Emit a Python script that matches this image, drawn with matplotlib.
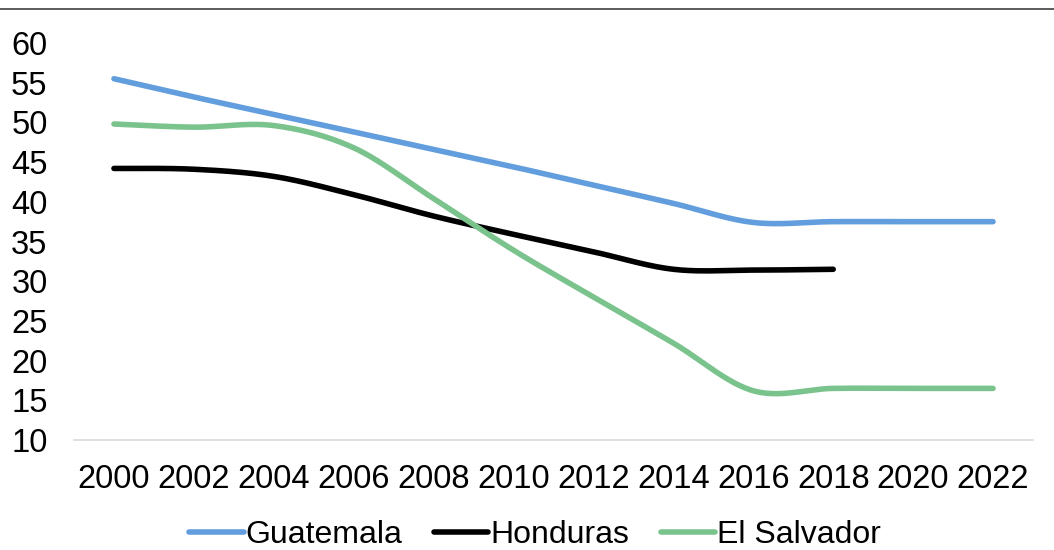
import numpy as np
import matplotlib
matplotlib.use("Agg")
import matplotlib.pyplot as plt
from matplotlib.lines import Line2D

plt.rcParams["font.family"] = ["Liberation Sans", "DejaVu Sans"]

years = ["2000", "2002", "2004", "2006", "2008", "2010",
         "2012", "2014", "2016", "2018", "2020", "2022"]
guatemala = [55.5, 53.2, 51.0, 48.8, 46.6, 44.4, 42.1, 39.8, 37.4, 37.5, 37.5, 37.5]
honduras = [44.2, 44.1, 43.2, 40.9, 38.2, 35.9, 33.7, 31.5, 31.4, 31.5, np.nan, np.nan]
el_salvador = [49.8, 49.4, 49.6, 46.8, 40.4, 33.9, 28.0, 22.2, 16.2, 16.5, 16.5, 16.5]

BLUE = "#629DDD"
GREEN = "#7BC38D"
BLACK = "#000000"


def smooth(xs, ys, n=30):
    # Catmull-Rom style Bezier smoothing, like spreadsheet "smoothed line"
    xs = np.asarray(xs, float)
    ys = np.asarray(ys, float)
    keep = ~np.isnan(ys)
    xs, ys = xs[keep], ys[keep]
    px, py = [], []
    t = np.linspace(0, 1, n)
    for i in range(len(xs) - 1):
        i0 = max(i - 1, 0)
        i3 = min(i + 2, len(xs) - 1)
        p0 = np.array([xs[i], ys[i]])
        p3 = np.array([xs[i + 1], ys[i + 1]])
        c1 = p0 + (p3 - np.array([xs[i0], ys[i0]])) / 6
        c2 = p3 - (np.array([xs[i3], ys[i3]]) - p0) / 6
        pts = ((1 - t) ** 3)[:, None] * p0 + (3 * (1 - t) ** 2 * t)[:, None] * c1 \
            + (3 * (1 - t) * t ** 2)[:, None] * c2 + (t ** 3)[:, None] * p3
        px.extend(pts[:, 0])
        py.extend(pts[:, 1])
    return px, py


fig = plt.figure(figsize=(10.54, 5.5), dpi=100)
ax = fig.add_axes([74 / 1054, 1 - 440 / 550, 959 / 1054, 397 / 550])

x = np.arange(len(years))
series = [("Guatemala", guatemala, BLUE), ("Honduras", honduras, BLACK),
          ("El Salvador", el_salvador, GREEN)]
for name, vals, col in series:
    sx, sy = smooth(x, vals)
    ax.plot(sx, sy, color=col, lw=4.0, solid_capstyle="round", label=name)

ax.set_xlim(-0.5, len(years) - 0.5)
ax.set_ylim(10, 60)
ax.set_yticks(range(10, 61, 5))
ax.set_xticks(x)
ax.set_xticklabels(years)
ax.tick_params(axis="both", length=0, labelsize=23.5)
ax.tick_params(axis="y", pad=19)
ax.tick_params(axis="x", pad=17)
for s in ("top", "right", "left"):
    ax.spines[s].set_visible(False)
ax.spines["bottom"].set_color("#D9D9D9")
ax.spines["bottom"].set_linewidth(1.2)

handles = [Line2D([], [], color=c, lw=4.0, solid_capstyle="round") for _, _, c in series]
fig.legend(handles, [n for n, _, _ in series], loc="center", bbox_to_anchor=(535 / 1054, 1 - 535 / 550),
           ncol=3, frameon=False, fontsize=23, handlelength=1.7, handletextpad=0.05,
           columnspacing=1.0, borderaxespad=0, borderpad=0)

# thin border along the top edge
fig.add_artist(Line2D([0, 1], [1 - 9 / 550, 1 - 9 / 550], transform=fig.transFigure,
                      color="#404040", lw=1.2))

fig.savefig("out.png", dpi=100, facecolor="white")
